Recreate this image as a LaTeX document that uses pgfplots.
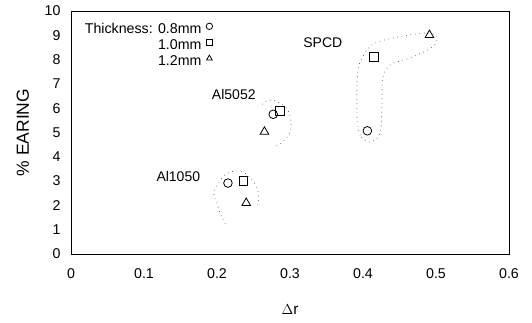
\documentclass[border=0pt]{standalone}
\usepackage{fontspec}
\setmainfont{Liberation Sans}
\usepackage{pgfplots}
\pgfplotsset{compat=1.18}
\begin{document}
\begin{tikzpicture}[font=\fontsize{14}{16.8}\selectfont]
\path[use as bounding box] (-71pt,-68pt) rectangle (461pt,254pt);
\begin{axis}[
  at={(0,0)}, anchor=south west,
  scale only axis, width=438pt, height=243pt,
  font=\fontsize{14}{16.8}\selectfont,
  tick label style={font=\fontsize{14.2}{16.8}\selectfont},
  xmin=0, xmax=0.6, ymin=0, ymax=10,
  xtick={0,0.1,...,0.6}, ytick={0,1,...,10},
  xticklabels={0,0.1,0.2,0.3,0.4,0.5,0.6},
  /pgf/number format/assume math mode=true,
  major tick length=0pt,
  axis line style={line width=0.9pt},
  xticklabel style={yshift=-11pt},
  yticklabel style={xshift=-7pt},
  xlabel={$\Delta$r}, ylabel={\% EARING},
  xlabel style={at={(axis description cs:0.5,-0.23)}, anchor=center, font=\fontsize{15.5}{18}\selectfont},
  ylabel style={at={(axis description cs:-0.11,0.5)}, anchor=center, font=\fontsize{17.5}{20}\selectfont},
  legend style={draw=none, fill=none, at={(0.326,0.96)}, anchor=north east,
    legend cell align=right, row sep=1.5pt, inner sep=1pt,
    font=\fontsize{14.2}{17}\selectfont,
    nodes={inner sep=1.5pt}},
  legend plot pos=right,
  legend image code/.code={\path (0,0); \draw[#1, mark size=3.2pt] (0.22cm,3pt) plot coordinates {(0.22cm,3pt)};},
]
% dotted loops
\addplot[black!70, line width=0.9pt, line cap=round, dash pattern=on 0pt off 4.5pt, smooth, tension=0.6, forget plot] coordinates {
 (0.256,2.02) (0.255,2.72) (0.236,3.37) (0.212,3.29) (0.196,2.55) (0.200,2.10) (0.204,1.69) (0.212,1.19)};
\addplot[black!70, line width=0.9pt, line cap=round, dash pattern=on 0pt off 4.5pt, smooth, tension=0.6, forget plot] coordinates {
 (0.262,6.17) (0.275,6.34) (0.295,6.01) (0.301,5.51) (0.300,5.02) (0.290,4.61) (0.281,4.44)};
\addplot[black!70, line width=0.9pt, line cap=round, dash pattern=on 0pt off 4.5pt, smooth cycle, tension=0.5, forget plot] coordinates {
 (0.408,4.61) (0.396,4.90) (0.392,5.64) (0.392,7.16) (0.396,7.90) (0.412,8.60) (0.441,8.89) (0.482,9.09) (0.500,9.01) (0.500,8.68) (0.489,8.40) (0.464,8.07) (0.437,7.78) (0.427,7.24) (0.426,6.34) (0.425,5.31) (0.421,4.81)};
% data
\addplot[only marks, mark=o, mark size=4.3pt, mark options={line width=0.8pt, black}] coordinates {
 (0.215,2.92) (0.277,5.75) (0.406,5.07)};
\addlegendentry{Thickness: 0.8mm}
\addplot[only marks, mark=square, mark size=4.3pt, mark options={line width=0.8pt, black}] coordinates {
 (0.236,3.00) (0.286,5.90) (0.415,8.12)};
\addlegendentry{1.0mm}
\addplot[only marks, mark=triangle, mark size=5pt, mark options={line width=0.8pt, black}] coordinates {
 (0.240,2.10) (0.265,5.03) (0.491,9.01)};
\addlegendentry{1.2mm}
\node at (axis cs:0.147,3.17) {Al1050};
\node at (axis cs:0.223,6.58) {Al5052};
\node at (axis cs:0.345,8.68) {SPCD};
\end{axis}
\end{tikzpicture}
\end{document}
